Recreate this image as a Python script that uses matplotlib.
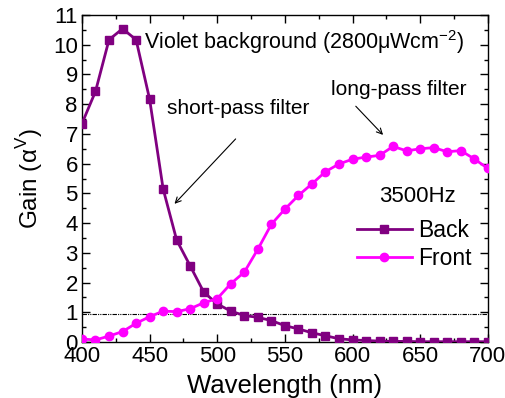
import matplotlib.pyplot as plt
from matplotlib.ticker import MultipleLocator

plt.rcParams['font.family'] = ['Liberation Sans', 'DejaVu Sans']

wavelength = list(range(400, 701, 10))
back = [7.35, 8.43, 10.17, 10.54, 10.17, 8.17, 5.15, 3.43, 2.56, 1.68,
        1.28, 1.04, 0.89, 0.83, 0.72, 0.55, 0.44, 0.31, 0.21, 0.11,
        0.07, 0.05, 0.03, 0.02, 0.02, 0.01, 0.01, 0.01, 0.01, 0.01, 0.01]
front = [0.1, 0.07, 0.2, 0.35, 0.63, 0.85, 1.04, 1.02, 1.12, 1.32,
         1.46, 1.96, 2.35, 3.12, 3.96, 4.47, 4.93, 5.32, 5.73, 5.99,
         6.15, 6.22, 6.28, 6.58, 6.43, 6.5, 6.54, 6.4, 6.44, 6.16, 5.84]
threshold = 0.95

fig = plt.figure(figsize=(5.06, 3.98), dpi=100)
ax = fig.add_axes([0.162, 0.1407, 0.802, 0.8215])

ax.plot(wavelength, back, color='#800080', marker='s', markersize=5.5,
        linewidth=2, label='Back', zorder=3)
ax.plot(wavelength, front, color='#ff00ff', marker='o', markersize=6,
        linewidth=2, label='Front', zorder=3)
ax.axhline(threshold, color='black', linewidth=0.8, dashes=(4, 1, 1, 1, 1, 1), zorder=2)

ax.set_xlim(400, 700)
ax.set_ylim(0, 11)
ax.xaxis.set_major_locator(MultipleLocator(50))
ax.xaxis.set_minor_locator(MultipleLocator(25))
ax.yaxis.set_major_locator(MultipleLocator(1))
ax.yaxis.set_minor_locator(MultipleLocator(0.5))
ax.tick_params(which='both', direction='in', top=True, right=True, labelsize=16, width=1)
ax.tick_params(which='major', length=6, pad=3)
ax.tick_params(which='minor', length=3)
for s in ax.spines.values():
    s.set_linewidth(1)

ax.set_xlabel('Wavelength (nm)', fontsize=18.5, labelpad=5)
ax.set_ylabel('Gain (α$^\\mathregular{V}$)', fontsize=17.5, labelpad=6)

ax.text(446, 10.1, 'Violet background (2800μWcm$^{\\mathregular{-2}}$)', fontsize=15.5, va='center')
ax.text(463, 7.85, 'short-pass filter', fontsize=15, va='center')
ax.annotate('', xy=(467, 4.58), xytext=(515, 6.9),
            arrowprops=dict(arrowstyle='->', color='black', lw=0.8))
ax.text(584, 8.5, 'long-pass filter', fontsize=15, va='center')
ax.annotate('', xy=(624, 6.9), xytext=(601, 8.0),
            arrowprops=dict(arrowstyle='->', color='black', lw=0.8))
ax.text(620, 4.9, '3500Hz', fontsize=16, va='center')

ax.legend(loc='upper left', bbox_to_anchor=(0.677, 0.375), frameon=False, fontsize=16.5,
          handlelength=2.4, handletextpad=0.3, labelspacing=0.2, borderaxespad=0,
          borderpad=0)

fig.savefig('out.png', dpi=100)
